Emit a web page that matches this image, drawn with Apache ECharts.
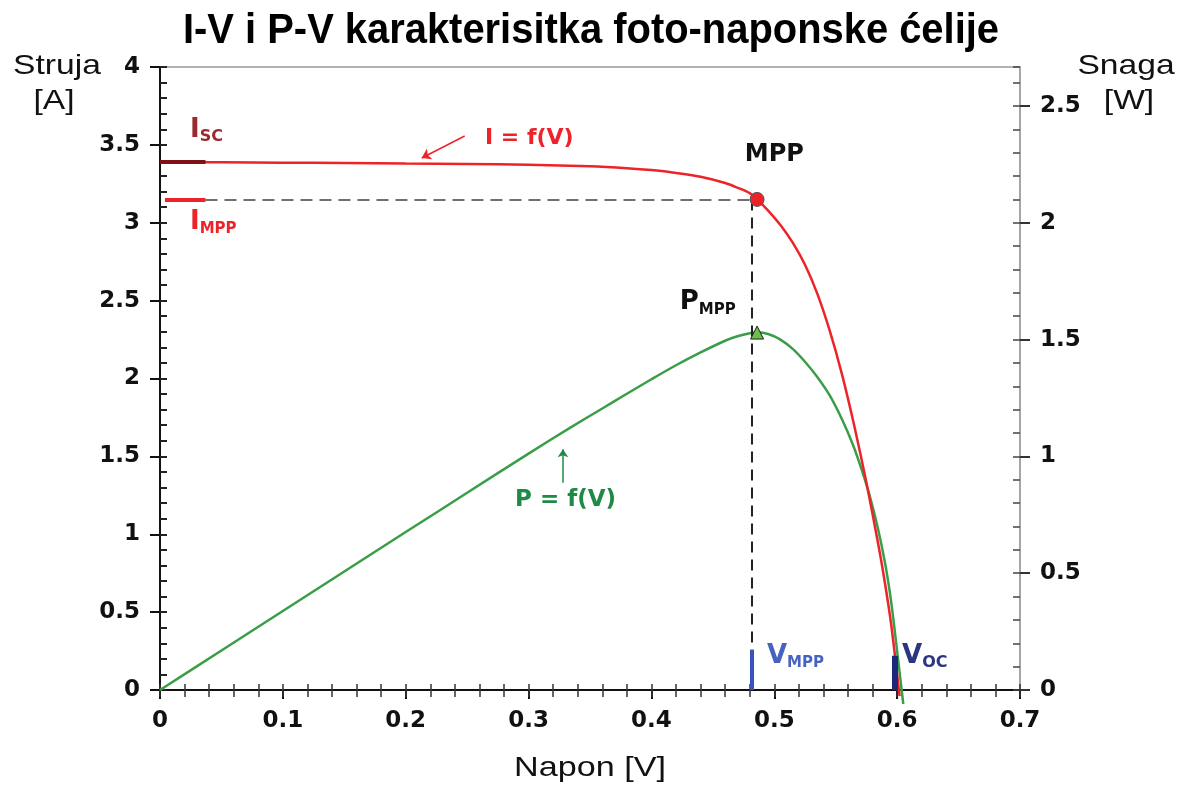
<!DOCTYPE html>
<html>
<head>
<meta charset="utf-8">
<title>I-V i P-V karakteristika</title>
<script src="https://cdn.jsdelivr.net/npm/echarts/dist/echarts.min.js"></script>
<style>
  html, body { margin: 0; padding: 0; background: #fff; }
  #chart { width: 1183px; height: 787px; }
</style>
</head>
<body>
<div id="chart"></div>
<script>
// I-V kriva (struja u A), ocitano sa slike
const voltageIV = [0, 0.05, 0.1, 0.15, 0.2, 0.25, 0.3, 0.35, 0.38, 0.4, 0.42, 0.44, 0.46, 0.47, 0.48, 0.486, 0.495, 0.505, 0.515, 0.525, 0.535, 0.545, 0.555, 0.565, 0.575, 0.585, 0.59, 0.595, 0.6, 0.602];
const currentIV = [3.39, 3.388, 3.386, 3.384, 3.38, 3.377, 3.372, 3.362, 3.35, 3.338, 3.32, 3.295, 3.255, 3.225, 3.19, 3.15, 3.078, 2.985, 2.872, 2.73, 2.545, 2.31, 2.03, 1.70, 1.33, 0.92, 0.69, 0.43, 0.10, -0.04];

// P-V kriva (snaga u W)
const voltagePV = [0, 0.05, 0.1, 0.15, 0.2, 0.25, 0.3, 0.334, 0.36, 0.38, 0.4, 0.42, 0.44, 0.46, 0.47, 0.48, 0.486, 0.495, 0.505, 0.515, 0.525, 0.535, 0.545, 0.555, 0.564, 0.571, 0.578, 0.584, 0.59, 0.594, 0.597, 0.601, 0.605];
const powerPV = [0, 0.169, 0.338, 0.507, 0.676, 0.844, 1.012, 1.123, 1.205, 1.268, 1.33, 1.39, 1.445, 1.495, 1.514, 1.527, 1.531, 1.524, 1.50, 1.46, 1.405, 1.34, 1.262, 1.16, 1.05, 0.945, 0.825, 0.70, 0.548, 0.42, 0.30, 0.12, -0.06];

// karakteristicne tacke
const Isc = 3.39;
const Impp = 3.15;
const Vmpp = 0.486;
const Pmpp = 1.53;
const Voc = 0.598;

const ivData = voltageIV.map((v, i) => [v, currentIV[i]]);
const pvData = voltagePV.map((v, i) => [v, powerPV[i]]);

const RED = '#ec2329';
const GREEN = '#3a9e48';
const tickFont = { fontFamily: 'DejaVu Sans', fontWeight: 'bold', fontSize: 23, color: '#111' };

function sub(mainColor, big, small) {
  return {
    m: { color: mainColor, fontFamily: 'DejaVu Sans', fontWeight: 'bold', fontSize: big, lineHeight: 30 },
    s: { color: mainColor, fontFamily: 'DejaVu Sans', fontWeight: 'bold', fontSize: small, lineHeight: 16, verticalAlign: 'bottom' }
  };
}

let myChart = echarts.init(document.getElementById('chart'), null, { renderer: 'canvas' });

let option = {
  animation: false,
  grid: { left: 160, right: 163, top: 67, bottom: 97 },
  xAxis: [
    {
      type: 'value', min: 0, max: 0.7, interval: 0.1, position: 'bottom',
      axisLine: { onZero: false, lineStyle: { color: '#111', width: 2 } },
      axisTick: { length: 9, lineStyle: { color: '#111', width: 2 } },
      axisLabel: Object.assign({ margin: 20, formatter: v => String(+v.toFixed(1)) }, tickFont),
      splitLine: { show: false }
    },
    {
      type: 'value', min: 0, max: 0.7, interval: 0.02, position: 'bottom',
      axisLine: { show: false, onZero: false },
      axisTick: { length: 7, lineStyle: { color: '#333', width: 1.5 } },
      axisLabel: { show: false }, splitLine: { show: false }
    },
    {
      type: 'value', min: 0, max: 0.7, interval: 0.02, position: 'bottom',
      axisLine: { show: false, onZero: false },
      axisTick: { inside: true, length: 6, lineStyle: { color: '#333', width: 1.5 } },
      axisLabel: { show: false }, splitLine: { show: false }
    },
    {
      type: 'value', min: 0, max: 0.7, position: 'top',
      axisLine: { onZero: false, lineStyle: { color: '#999', width: 1.5 } },
      axisTick: { show: false }, axisLabel: { show: false }, splitLine: { show: false }
    }
  ],
  yAxis: [
    {
      type: 'value', min: 0, max: 4, interval: 0.5, position: 'left',
      axisLine: { show: true, onZero: false, lineStyle: { color: '#111', width: 2 } },
      axisTick: { show: true, length: 10, lineStyle: { color: '#111', width: 2 } },
      axisLabel: Object.assign({ margin: 20 }, tickFont),
      splitLine: { show: false }
    },
    {
      type: 'value', min: 0, max: 8 / 3, interval: 0.5, position: 'right',
      axisLine: { show: true, onZero: false, lineStyle: { color: '#888', width: 1.5 } },
      axisTick: { show: true, length: 10, lineStyle: { color: '#333', width: 2 } },
      axisLabel: Object.assign({ margin: 20, showMaxLabel: false }, tickFont),
      splitLine: { show: false }
    },
    {
      type: 'value', min: 0, max: 4, interval: 0.1, position: 'left',
      axisLine: { show: false, onZero: false },
      axisTick: { show: true, inside: true, length: 7, lineStyle: { color: '#222', width: 2 } },
      axisLabel: { show: false }, splitLine: { show: false }
    },
    {
      type: 'value', min: 0, max: 8 / 3, interval: 0.1, position: 'right',
      axisLine: { show: false, onZero: false },
      axisTick: { show: true, inside: true, length: 7, lineStyle: { color: '#444', width: 1.5 } },
      axisLabel: { show: false }, splitLine: { show: false }
    }
  ],
  graphic: [
    { type: 'text', x: 591, y: 31, scaleX: 0.95, silent: true,
      style: { text: 'I-V i P-V karakterisitka foto-naponske ćelije', fontFamily: 'Liberation Sans', fontWeight: 'bold', fontSize: 42, fill: '#000', align: 'center', verticalAlign: 'middle' } },
    { type: 'text', x: 57, y: 66, scaleX: 1.2, silent: true,
      style: { text: 'Struja', fontFamily: 'Liberation Sans', fontSize: 28, fill: '#111', align: 'center', verticalAlign: 'middle' } },
    { type: 'text', x: 54, y: 101, scaleX: 1.2, silent: true,
      style: { text: '[A]', fontFamily: 'Liberation Sans', fontSize: 28, fill: '#111', align: 'center', verticalAlign: 'middle' } },
    { type: 'text', x: 1126, y: 66, scaleX: 1.2, silent: true,
      style: { text: 'Snaga', fontFamily: 'Liberation Sans', fontSize: 28, fill: '#111', align: 'center', verticalAlign: 'middle' } },
    { type: 'text', x: 1129, y: 101, scaleX: 1.2, silent: true,
      style: { text: '[W]', fontFamily: 'Liberation Sans', fontSize: 28, fill: '#111', align: 'center', verticalAlign: 'middle' } },
    { type: 'text', x: 590, y: 768, scaleX: 1.22, silent: true,
      style: { text: 'Napon [V]', fontFamily: 'Liberation Sans', fontSize: 28, fill: '#111', align: 'center', verticalAlign: 'middle' } }
  ],
  series: [
    {
      name: 'I = f(V)',
      type: 'line',
      xAxisIndex: 0,
      yAxisIndex: 0,
      data: ivData,
      smooth: 0.3,
      showSymbol: false,
      clip: false,
      z: 3,
      lineStyle: { color: RED, width: 2.5 },
      markLine: {
        silent: true,
        symbol: ['none', 'none'],
        label: { show: false },
        emphasis: { disabled: true },
        data: [
          [{ coord: [0.037, Impp], lineStyle: { color: '#6f6f6f', width: 2, type: [12, 7] } }, { coord: [Vmpp, Impp] }],
          [{ coord: [0.482, Impp], lineStyle: { color: '#222', width: 2, type: [11, 7] } }, { coord: [0.482, 0.26] }],
          [{ coord: [0, Isc], lineStyle: { color: '#7c1216', width: 4, type: 'solid' } }, { coord: [0.037, Isc] }],
          [{ coord: [0.004, Impp], lineStyle: { color: RED, width: 4, type: 'solid' } }, { coord: [0.037, Impp] }],
          [{ coord: [0.482, 0.26], lineStyle: { color: '#3555b8', width: 4, type: 'solid' } }, { coord: [0.482, 0] }],
          [{ coord: [Voc, 0.22], lineStyle: { color: '#1c2878', width: 6, type: 'solid' } }, { coord: [Voc, 0] }],
          [{ coord: [0.248, 3.557], symbol: 'none', lineStyle: { color: RED, width: 1.5, type: 'solid' } },
           { coord: [0.213, 3.416], symbol: 'arrow', symbolSize: 9 }]
        ]
      },
      markPoint: {
        silent: true,
        data: [
          { coord: [Vmpp, Impp], symbol: 'circle', symbolSize: 14,
            itemStyle: { color: RED, borderColor: '#555', borderWidth: 1 }, label: { show: false } },
          { coord: [0.0244, 3.595], symbol: 'circle', symbolSize: 0,
            label: { show: true, position: 'right', distance: 0, formatter: '{m|I}{s|SC}', rich: sub('#9a2a2e', 26, 16) } },
          { coord: [0.0244, 3.005], symbol: 'circle', symbolSize: 0,
            label: { show: true, position: 'right', distance: 0, formatter: '{m|I}{s|MPP}', rich: sub(RED, 26, 15) } },
          { coord: [0.476, 3.435], symbol: 'circle', symbolSize: 0,
            label: { show: true, position: 'right', distance: 0, formatter: 'MPP', color: '#111',
              fontFamily: 'DejaVu Sans', fontWeight: 'bold', fontSize: 24 } },
          { coord: [0.423, 2.49], symbol: 'circle', symbolSize: 0,
            label: { show: true, position: 'right', distance: 0, formatter: '{m|P}{s|MPP}', rich: sub('#111', 26, 15) } },
          { coord: [0.494, 0.218], symbol: 'circle', symbolSize: 0,
            label: { show: true, position: 'right', distance: 0, formatter: '{m|V}{s|MPP}', rich: sub('#4763c2', 26, 15) } },
          { coord: [0.604, 0.218], symbol: 'circle', symbolSize: 0,
            label: { show: true, position: 'right', distance: 0, formatter: '{m|V}{s|OC}', rich: sub('#2b3583', 26, 16) } },
          { coord: [0.2645, 3.544], symbol: 'circle', symbolSize: 0,
            label: { show: true, position: 'right', distance: 0, formatter: 'I = f(V)', color: RED,
              fontFamily: 'DejaVu Sans', fontWeight: 'bold', fontSize: 22 } }
        ]
      }
    },
    {
      name: 'P = f(V)',
      type: 'line',
      xAxisIndex: 0,
      yAxisIndex: 1,
      data: pvData,
      smooth: 0.3,
      showSymbol: false,
      clip: false,
      z: 2,
      lineStyle: { color: GREEN, width: 2.5 },
      markLine: {
        silent: true,
        symbol: ['none', 'none'],
        label: { show: false },
        emphasis: { disabled: true },
        data: [
          [{ coord: [0.328, 0.887], symbol: 'none', lineStyle: { color: '#1f8a45', width: 1.5, type: 'solid' } },
           { coord: [0.328, 1.03], symbol: 'arrow', symbolSize: 8 }]
        ]
      },
      markPoint: {
        silent: true,
        data: [
          { coord: [Vmpp, Pmpp], symbol: 'triangle', symbolSize: 13,
            itemStyle: { color: '#6cc04a', borderColor: '#222', borderWidth: 1 }, label: { show: false } },
          { coord: [0.289, 0.814], symbol: 'circle', symbolSize: 0,
            label: { show: true, position: 'right', distance: 0, formatter: 'P = f(V)', color: '#1f8a45',
              fontFamily: 'DejaVu Sans', fontWeight: 'bold', fontSize: 23 } }
        ]
      }
    }
  ]
};

myChart.setOption(option);
</script>
</body>
</html>
